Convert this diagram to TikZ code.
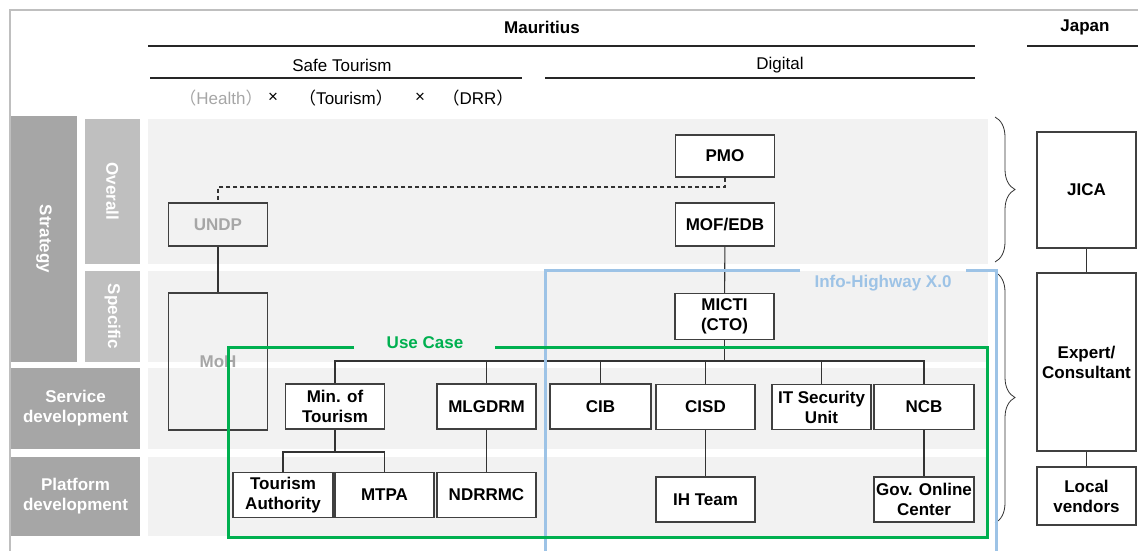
\documentclass[tikz,border=0pt]{standalone}
\usepackage{fontspec}
\setmainfont{Liberation Sans}
\newfontfamily\cjk{Noto Sans CJK JP}
\usepackage{tikz}
\usetikzlibrary{decorations.pathreplacing}

\definecolor{bandgray}{HTML}{F2F2F2}
\definecolor{darklabel}{HTML}{A6A6A6}
\definecolor{lightlabel}{HTML}{BFBFBF}
\definecolor{usecase}{HTML}{00B050}
\definecolor{infohw}{HTML}{9DC3E6}
\definecolor{boxline}{HTML}{404040}

\tikzset{
    org/.style={draw=boxline, line width=1.2pt, fill=white, align=center, font=\bfseries,
        minimum width=99pt, minimum height=45pt, inner sep=1pt},
    ghost/.style={org, fill=none, text=darklabel},
    rowlab/.style={fill=darklabel, text=white, font=\bfseries, align=center, inner sep=0pt},
    sublab/.style={rowlab, fill=lightlabel, rotate=-90, minimum width=#1, minimum height=55pt},
    rule/.style={draw=black!85, line width=1.3pt},
    link/.style={draw=black!80, line width=1.1pt},
    curly/.style={draw=black!80, line width=0.8pt, decorate, decoration={brace, amplitude=20pt}},
}

\begin{document}
\begin{tikzpicture}[x=1pt, y=-1pt, execute at begin picture={\fontsize{17}{20}\selectfont}]
    \useasboundingbox (0,0) rectangle (1138,551);
    \draw[lightlabel, line width=2pt] (10,551) -- (10,10) -- (1138,10);

    \node[font=\bfseries] (mauritius) at (542,27) {Mauritius};
    \node[font=\bfseries] (japan) at (1085,27) {Japan};
    \draw[rule] (148,46) -- (975,46);
    \draw[rule] (1027,46) -- (1138,46);
    \node (safetour) at (342,65) {Safe Tourism};
    \node (digital) at (780,65) {Digital};
    \draw[rule] (150,78) -- (522,78);
    \draw[rule] (545,78) -- (975,78);
    \node[text=darklabel] (health) at (221,98) {{\cjk （}Health{\cjk ）}};
    \node (times1) at (273,98) {×};
    \node (tourism) at (346,98) {{\cjk （}Tourism{\cjk ）}};
    \node (times2) at (420,98) {×};
    \node (drr) at (478,98) {{\cjk （}DRR{\cjk ）}};

    \fill[bandgray] (148,119) rectangle (988,264);
    \fill[bandgray] (148,271) rectangle (988,362);
    \fill[bandgray] (148,368) rectangle (988,449);
    \fill[bandgray] (148,457) rectangle (988,536);

    \node[rowlab, rotate=-90, minimum width=246pt, minimum height=66pt] (strategy) at (44,239) {Strategy};
    \node[sublab=145pt] (overall) at (112.5,191.5) {Overall};
    \node[sublab=91pt] (specific) at (112.5,316.5) {Specific};
    \node[rowlab, minimum width=129pt, minimum height=81pt] (service) at (75.5,408.5) {Service\\development};
    \node[rowlab, minimum width=129pt, minimum height=79pt] (platform) at (75.5,496.5) {Platform\\development};

    \node[org, minimum height=42pt] (pmo) at (725,156) {PMO};
    \node[org, minimum height=43pt] (mof) at (725,224.5) {MOF/EDB};
    \node[ghost, minimum height=43pt] (undp) at (218,224.5) {UNDP};
    \node[ghost, minimum height=137pt] (moh) at (218,361.5) {MoH};
    \node[org, minimum height=46pt] (micti) at (724.5,316.5) {MICTI\\(CTO)};

    \node[org] (mintour) at (335,406.5) {Min. of\\Tourism};
    \node[org] (mlgdrm) at (486.5,406.5) {MLGDRM};
    \node[org, minimum width=101pt] (cib) at (600.5,406.5) {CIB};
    \node[org] (cisd) at (705.5,407) {CISD};
    \node[org] (itsec) at (821.5,407) {IT Security\\Unit};
    \node[org, minimum width=100pt] (ncb) at (924,407) {NCB};

    \node[org, minimum width=100pt] (touraut) at (283,495) {Tourism\\Authority};
    \node[org] (mtpa) at (384.5,495) {MTPA};
    \node[org] (ndrrmc) at (486.5,495) {NDRRMC};
    \node[org] (ihteam) at (705.5,499.5) {IH Team};
    \node[org, minimum width=100pt] (govonline) at (924,499.5) {Gov. Online\\Center};

    \node[org, minimum height=116pt] (jica) at (1086.5,190) {JICA};
    \node[org, minimum height=178pt] (expert) at (1086.5,362) {Expert/\\Consultant};
    \node[org, minimum height=58pt] (local) at (1086.5,496) {Local\\vendors};

    \coordinate (dashlvl) at (0,187);
    \coordinate (bus) at (0,361);
    \coordinate (subbus) at (0,452);

    \draw[link, dash pattern=on 4pt off 3pt] (pmo.south) -- (pmo.south |- dashlvl) -| (undp.north);
    \draw[link] (undp) -- (moh);
    \draw[link] (mof) -- (micti);
    \draw[link] (micti) -- (micti.south |- bus);
    \draw[link] (mintour.north) -- (mintour.north |- bus) -- (ncb.north |- bus) -- (ncb.north);
    \foreach \n in {mlgdrm, cib, cisd, itsec}
        \draw[link] (\n.north |- bus) -- (\n.north);
    \draw[link] (mintour) -- (mintour.south |- subbus);
    \draw[link] (touraut.north) -- (touraut.north |- subbus) -- (mtpa.north |- subbus) -- (mtpa.north);
    \draw[link] (mlgdrm) -- (ndrrmc);
    \draw[link] (cisd) -- (ihteam);
    \draw[link] (ncb) -- (govonline);
    \draw[link] (jica) -- (expert) -- (local);

    \draw[curly] (995,117) -- (995,262);
    \draw[curly] (995,272) -- (995,523);

    \draw[infohw, line width=3pt] (800,270) -- (545,270) -- (545,551);
    \draw[infohw, line width=3pt] (966,270) -- (996,270) -- (996,551);
    \node[text=infohw, font=\bfseries] (infolab) at (883,283) {Info-Highway X.0};

    \draw[usecase, line width=3pt] (354,347) -- (228,347) -- (228,537) -- (987,537) -- (987,347) -- (495,347);
    \node[text=usecase, font=\bfseries] (uselab) at (425,343) {Use Case};
\end{tikzpicture}
\end{document}
